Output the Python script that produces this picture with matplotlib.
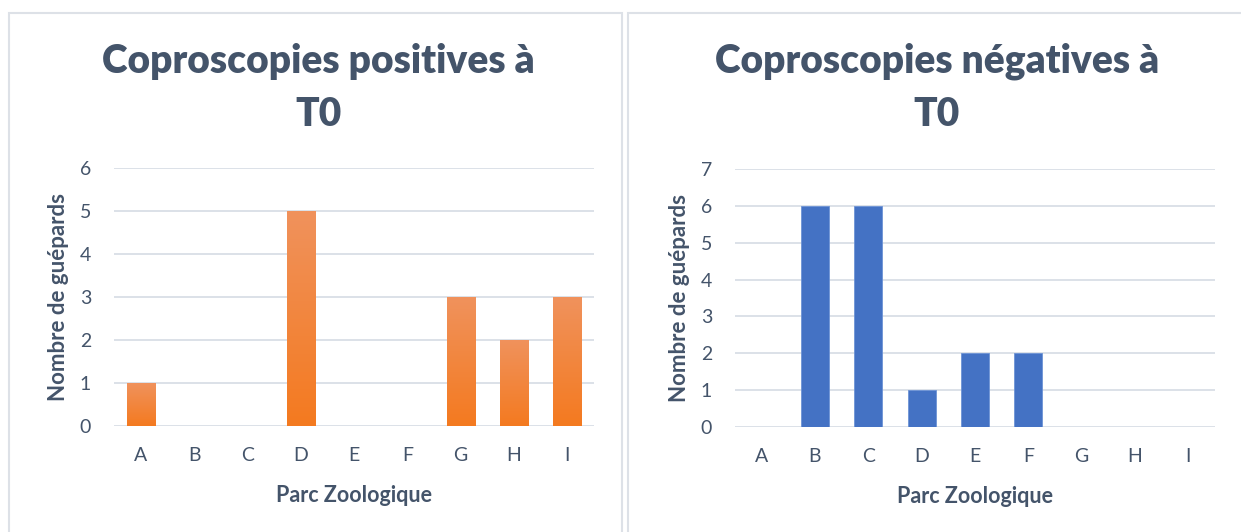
import numpy as np
import matplotlib.pyplot as plt
from matplotlib.patches import Rectangle
from matplotlib.colors import LinearSegmentedColormap

plt.rcParams['font.family'] = ['Lato', 'DejaVu Sans']

parcs = ["A", "B", "C", "D", "E", "F", "G", "H", "I"]
positives = [1, 0, 0, 5, 0, 0, 3, 2, 3]
negatives = [0, 6, 6, 1, 2, 2, 0, 0, 0]

TXT = "#44546A"
GRID = "#D9DEE6"
BORDER = "#DDE1E7"

W, H = 1241, 532
fig = plt.figure(figsize=(W / 100, H / 100), dpi=100)
fig.patch.set_facecolor("white")

def px(x0, y0, x1, y1):
    # pixel box (top-left origin) -> figure fraction rect
    return [x0 / W, 1 - y1 / H, (x1 - x0) / W, (y1 - y0) / H]

# panel frames
for x0, x1 in [(9, 622), (628, 1245)]:
    fig.patches.append(Rectangle((x0 / W, -0.05), (x1 - x0) / W, 1 - 13 / H + 0.05,
                                 transform=fig.transFigure, facecolor="white",
                                 edgecolor=BORDER, linewidth=1.5, zorder=-5))

orange = LinearSegmentedColormap.from_list("og", ["#F47A20", "#F0925C"])

def panel(rect, values, ymax, title_x, title, color=None):
    ax = fig.add_axes(px(*rect))
    ax.set_facecolor("none")
    x = np.arange(len(parcs))
    bars = ax.bar(x, values, width=0.53, color=color if color else "none",
                  edgecolor="#6D93D6" if color else "none", linewidth=0.6, zorder=3)
    if color is None:
        # vertical gradient per bar, like the Excel fill
        grad = np.linspace(0, 1, 100).reshape(-1, 1)
        for b in bars:
            if b.get_height() <= 0:
                continue
            im = ax.imshow(grad, cmap=orange, origin="lower", aspect="auto",
                           extent=[b.get_x(), b.get_x() + b.get_width(), 0, b.get_height()],
                           zorder=3)
            im.set_clip_path(b)
    ax.set_xlim(-0.5, len(parcs) - 0.5)
    ax.set_ylim(0, ymax)
    ax.set_yticks(range(ymax + 1))
    ax.set_xticks(x)
    ax.set_xticklabels(parcs)
    ax.tick_params(length=0, labelsize=14, colors=TXT)
    ax.tick_params(axis="x", pad=15)
    ax.tick_params(axis="y", pad=16.5)
    ax.grid(axis="y", color=GRID, linewidth=1.3, zorder=0)
    for s in ax.spines.values():
        s.set_visible(False)
    ax.set_xlabel("Parc Zoologique", fontsize=15.5, fontweight="bold", color=TXT, labelpad=15)
    ax.set_ylabel("Nombre de guépards", fontsize=16, fontweight="bold", color=TXT, labelpad=8)
    fig.text(title_x / W, 1 - 88 / H, title, ha="center", va="center",
             fontsize=28, fontweight="heavy", color=TXT, linespacing=1.55)
    return ax

panel((114, 168, 594, 426), positives, 6, 318, "Coproscopies positives à\nT0")
panel((735, 169, 1215, 427), negatives, 7, 937, "Coproscopies négatives à\nT0", color="#4472C4")

fig.savefig("out.png", dpi=100)
